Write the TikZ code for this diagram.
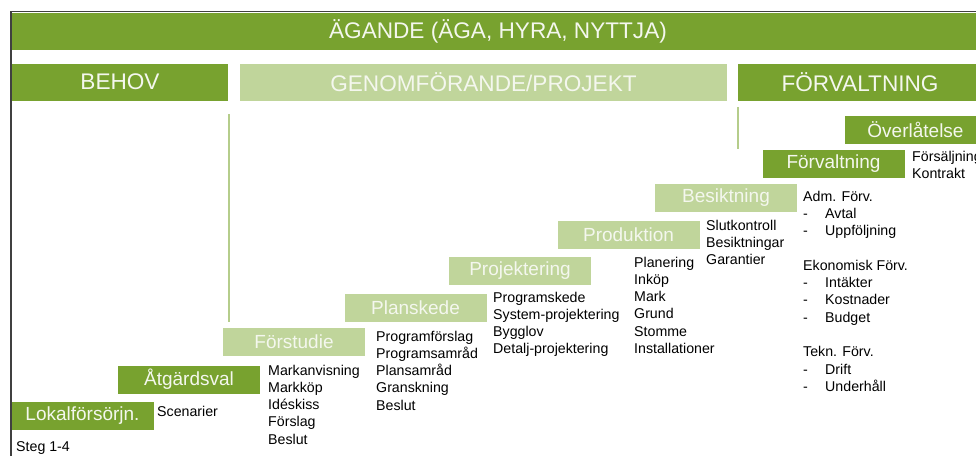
\documentclass[tikz,border=0pt]{standalone}
\usepackage{fontspec}
\setmainfont{Liberation Sans}
\definecolor{darkgr}{HTML}{78A22F}
\definecolor{lightgr}{HTML}{C0D59B}
\definecolor{txtwhite}{HTML}{F4F7EE}
\tikzset{
    headbox/.style={minimum height=37pt,inner sep=0pt,text=txtwhite,font=\fontsize{22.6}{24}\selectfont},
    stepbox/.style={minimum width=142pt,minimum height=28pt,inner sep=0pt,text=txtwhite,font=\fontsize{19}{21}\selectfont},
    itemlist/.style={anchor=base west,inner sep=0pt,font=\fontsize{14.2}{17.3}\selectfont},
}
\newcommand{\itemcol}[1]{\begin{tabular}[t]{@{}l@{}}#1\end{tabular}}
\newcommand{\dashitem}[1]{\makebox[22pt][l]{-}#1}
\begin{document}
\begin{tikzpicture}[x=1pt,y=-1pt]
        \useasboundingbox (0,0) rectangle (976,456);
        \fill[white](0,0)rectangle(976,456);
        % frame and banners
        \draw[line width=1.4pt,black!75](11,456)--(11,11.5)--(990,11.5);
        \node[headbox,fill=darkgr,minimum width=972pt] (agande) at (498,31) {ÄGANDE (ÄGA, HYRA, NYTTJA)};
        \node[headbox,fill=darkgr,minimum width=216pt] (behov) at (120,82) {BEHOV};
        \node[headbox,fill=lightgr,minimum width=487pt] (genom) at (483.5,82) {GENOMFÖRANDE/PROJEKT};
        \node[headbox,fill=darkgr,minimum width=244pt] (forvaltn) at (860,82) {FÖRVALTNING};
        \draw[line width=1.3pt,lightgr!85!darkgr](229,114)--(229,322);
        \draw[line width=1.3pt,lightgr!85!darkgr](738,107)--(738,149);
        % steps
        \foreach \nm/\x/\y/\col/\txt in {
        lok/82.5/416/darkgr/Lokalförsörjn.,
        atg/189/379.5/darkgr/Åtgärdsval,
        forst/294/341.5/lightgr/Förstudie,
        plan/415.5/308/lightgr/Planskede,
        proj/520/271/lightgr/Projektering,
        prod/628.5/235/lightgr/Produktion,
        besikt/726/197.5/lightgr/Besiktning,
        forv/833.5/163.5/darkgr/Förvaltning,
        overl/915.5/129.5/darkgr/Överlåtelse}{
            \node[stepbox,fill=\col] (\nm) at (\x,\y) {\txt};
        }
        % contents
        \node[itemlist] (scen) at (157,416) {Scenarier};
        \node[itemlist] (mark) at (268,375) {\itemcol{Markanvisning\\Markköp\\Idéskiss\\Förslag\\Beslut}};
        \node[itemlist] (progf) at (376,341) {\itemcol{Programförslag\\Programsamråd\\Plansamråd\\Granskning\\Beslut}};
        \node[itemlist] (progsk) at (493,302) {\itemcol{Programskede\\System-projektering\\Bygglov\\Detalj-projektering}};
        \node[itemlist] (planer) at (634,267) {\itemcol{Planering\\Inköp\\Mark\\Grund\\Stomme\\Installationer}};
        \node[itemlist] (slutk) at (706,230) {\itemcol{Slutkontroll\\Besiktningar\\Garantier}};
        \node[itemlist] (adm) at (803,201) {\itemcol{Adm. Förv.\\\dashitem{Avtal}\\\dashitem{Uppföljning}\\ \\Ekonomisk Förv.\\\dashitem{Intäkter}\\\dashitem{Kostnader}\\\dashitem{Budget}\\ \\Tekn. Förv.\\\dashitem{Drift}\\\dashitem{Underhåll}}};
        \node[itemlist] (forsalj) at (912,161) {\itemcol{Försäljning\\Kontrakt}};
        \node[itemlist] (steg) at (16,451) {Steg 1-4};
    \end{tikzpicture}
\end{document}
